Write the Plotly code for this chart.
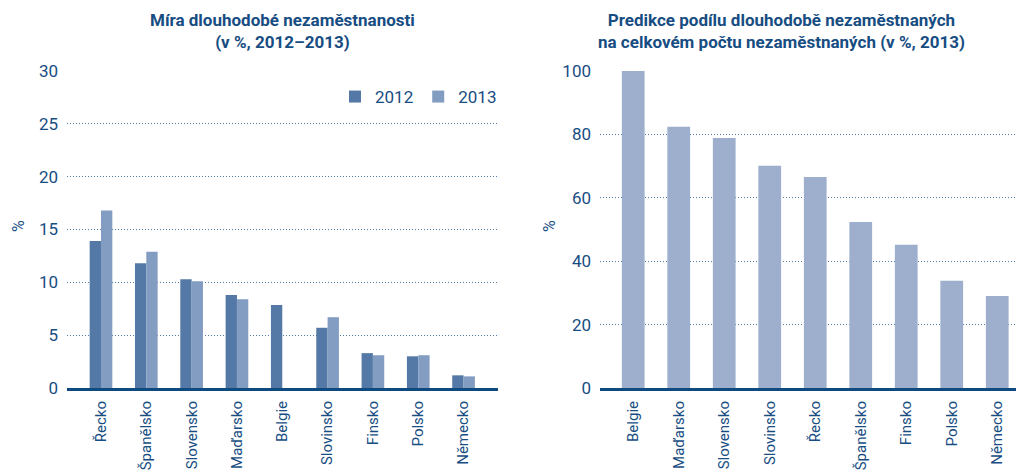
import plotly.graph_objects as go

countries_left = ["Řecko", "Španělsko", "Slovensko", "Maďarsko", "Belgie",
                  "Slovinsko", "Finsko", "Polsko", "Německo"]
values_2012 = [13.9, 11.8, 10.3, 8.8, 7.85, 5.7, 3.3, 3.0, 1.2]
values_2013 = [16.8, 12.9, 10.1, 8.4, None, 6.7, 3.1, 3.1, 1.1]

countries_right = ["Belgie", "Maďarsko", "Slovensko", "Slovinsko", "Řecko",
                   "Španělsko", "Finsko", "Polsko", "Německo"]
share_2013 = [100, 82.4, 78.9, 70.1, 66.6, 52.4, 45.2, 33.8, 29.0]

left_ticks = [0, 5, 10, 15, 20, 25, 30]
right_ticks = [0, 20, 40, 60, 80, 100]

TXT = "#174d82"
FONT = "Liberation Sans Narrow, Roboto, Arial"
GRID = "#4f7aa8"
AXIS = "#0e4a80"

# page has an 8px body margin; figure is sized to fill the rest of the window
OFF = 8
W, H = 1024 - OFF, 474 - OFF


def px(x):
    return (x - OFF) / W


def py(y):
    return 1 - (y - OFF) / H


fig = go.Figure()
fig.add_trace(go.Bar(x=countries_left, y=values_2012, name="2012",
                     marker=dict(color="#5479a6", line=dict(width=0)),
                     xaxis="x", yaxis="y"))
fig.add_trace(go.Bar(x=countries_left, y=values_2013, name="2013",
                     marker=dict(color="#829cc2", line=dict(width=0)),
                     xaxis="x", yaxis="y"))
fig.add_trace(go.Bar(x=countries_right, y=share_2013, name="podíl",
                     marker=dict(color="#9dafcd", line=dict(width=0)),
                     xaxis="x2", yaxis="y2", showlegend=False, width=0.5))

common_x = dict(showgrid=False, showline=True, linecolor=AXIS, linewidth=3,
                ticks="", tickangle=-90, tickfont=dict(family=FONT, size=15, color=TXT),
                zeroline=False, fixedrange=True, automargin=False,
                ticklabelstandoff=4)
common_y = dict(showgrid=True, griddash="1px,2px", gridcolor=GRID, gridwidth=1,
                zeroline=False, showline=False, ticks="", automargin=False,
                tickfont=dict(family=FONT, size=17, color=TXT), ticklen=0,
                ticklabelstandoff=8)

fig.update_layout(
    width=W, height=H,
    margin=dict(l=0, r=0, t=0, b=0),
    paper_bgcolor="white", plot_bgcolor="white",
    barmode="group", bargap=0.5, bargroupgap=0,
    font=dict(family=FONT, color=TXT),
    xaxis=dict(domain=[px(67), px(498)], anchor="y",
               range=[-0.75, 8.76], **common_x),
    yaxis=dict(domain=[py(388), py(71)], anchor="x", range=[0, 30],
               tickvals=left_ticks, **common_y),
    xaxis2=dict(domain=[px(600), px(1020)], anchor="y2",
                range=[-0.73, 8.5], **common_x),
    yaxis2=dict(domain=[py(388), py(71)], anchor="x2", range=[0, 100],
                tickvals=right_ticks, **common_y),
    legend=dict(orientation="h", x=px(502), xanchor="right",
                y=py(97), yanchor="middle",
                font=dict(family=FONT, size=17, color=TXT),
                bgcolor="rgba(0,0,0,0)", itemwidth=30),
    annotations=[
        dict(text="<b>Míra dlouhodobé nezaměstnanosti<br>(v %, 2012–2013)</b>",
             x=px(282), y=py(8), xref="paper", yref="paper",
             xanchor="center", yanchor="top", showarrow=False,
             font=dict(family=FONT, size=17, color=TXT)),
        dict(text="<b>Predikce podílu dlouhodobě nezaměstnaných<br>na celkovém počtu nezaměstnaných (v %, 2013)</b>",
             x=px(781), y=py(8), xref="paper", yref="paper",
             xanchor="center", yanchor="top", showarrow=False,
             font=dict(family=FONT, size=17, color=TXT)),
        dict(text="%", x=px(18), y=py(226), xref="paper", yref="paper",
             xanchor="center", yanchor="middle", showarrow=False, textangle=-90,
             font=dict(family=FONT, size=16, color=TXT)),
        dict(text="%", x=px(549), y=py(226), xref="paper", yref="paper",
             xanchor="center", yanchor="middle", showarrow=False, textangle=-90,
             font=dict(family=FONT, size=16, color=TXT)),
    ],
)

fig.write_html("out.html")
